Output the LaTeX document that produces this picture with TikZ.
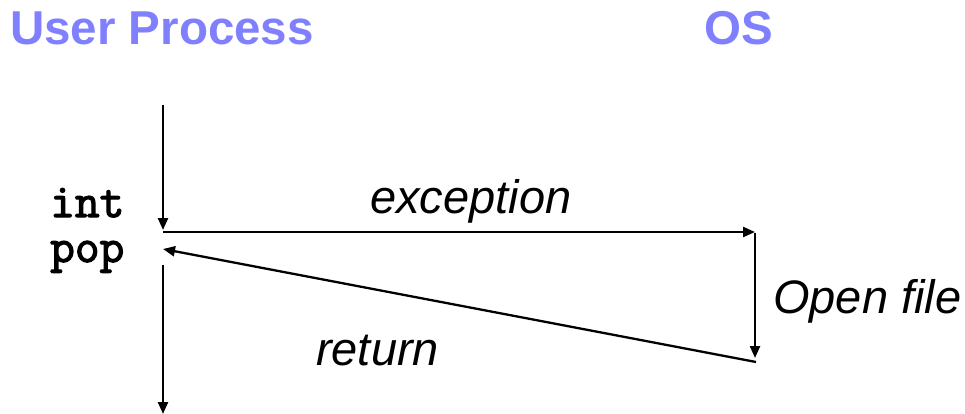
\documentclass[tikz,border=0pt]{standalone}
\usepackage{fontspec}
\setmainfont{Liberation Sans}
\newfontfamily\codefont{Latin Modern Mono}[AutoFakeBold=2.5]
\usetikzlibrary{arrows.meta}
\definecolor{titleblue}{RGB}{128,128,255}
\begin{document}
\begin{tikzpicture}[
  x=1pt, y=-1pt,
  every node/.style={inner sep=0pt, anchor=base west},
  title/.style={font=\fontsize{47.5}{50}\selectfont\bfseries, text=titleblue},
  label/.style={font=\fontsize{47}{50}\selectfont\itshape},
  instr/.style={font=\fontsize{48}{50}\selectfont\codefont\bfseries},
  arrow/.style={-{Triangle[length=12pt,width=10pt]}, line width=2.3pt}
]
\useasboundingbox (0,0) rectangle (965,414);
\node[title] (user) at (10,45) {User Process};
\node[title] (os) at (704,45) {OS};
\node[instr] (int) at (50,217) {int};
\node[instr] (pop) at (50,262) {pop};
\node[label] (exc) at (370,213) {exception};
\node[label] (open) at (773,313) {Open file};
\node[label] (ret) at (316,365) {return};

\coordinate (runtop) at (163,105);
\coordinate (trap) at (163,230);
\coordinate (excfrom) at (163,232);
\coordinate (excto) at (755,232);
\coordinate (ostop) at (755,233);
\coordinate (osend) at (755,358);
\coordinate (retfrom) at (756,362);
\coordinate (retto) at (163,249);
\coordinate (resume) at (163,265);
\coordinate (runend) at (163,414);

\draw[arrow] (runtop) -- (trap);
\draw[arrow] (excfrom) -- (excto);
\draw[arrow] (ostop) -- (osend);
\draw[arrow] (retfrom) -- (retto);
\draw[arrow] (resume) -- (runend);
\end{tikzpicture}
\end{document}
